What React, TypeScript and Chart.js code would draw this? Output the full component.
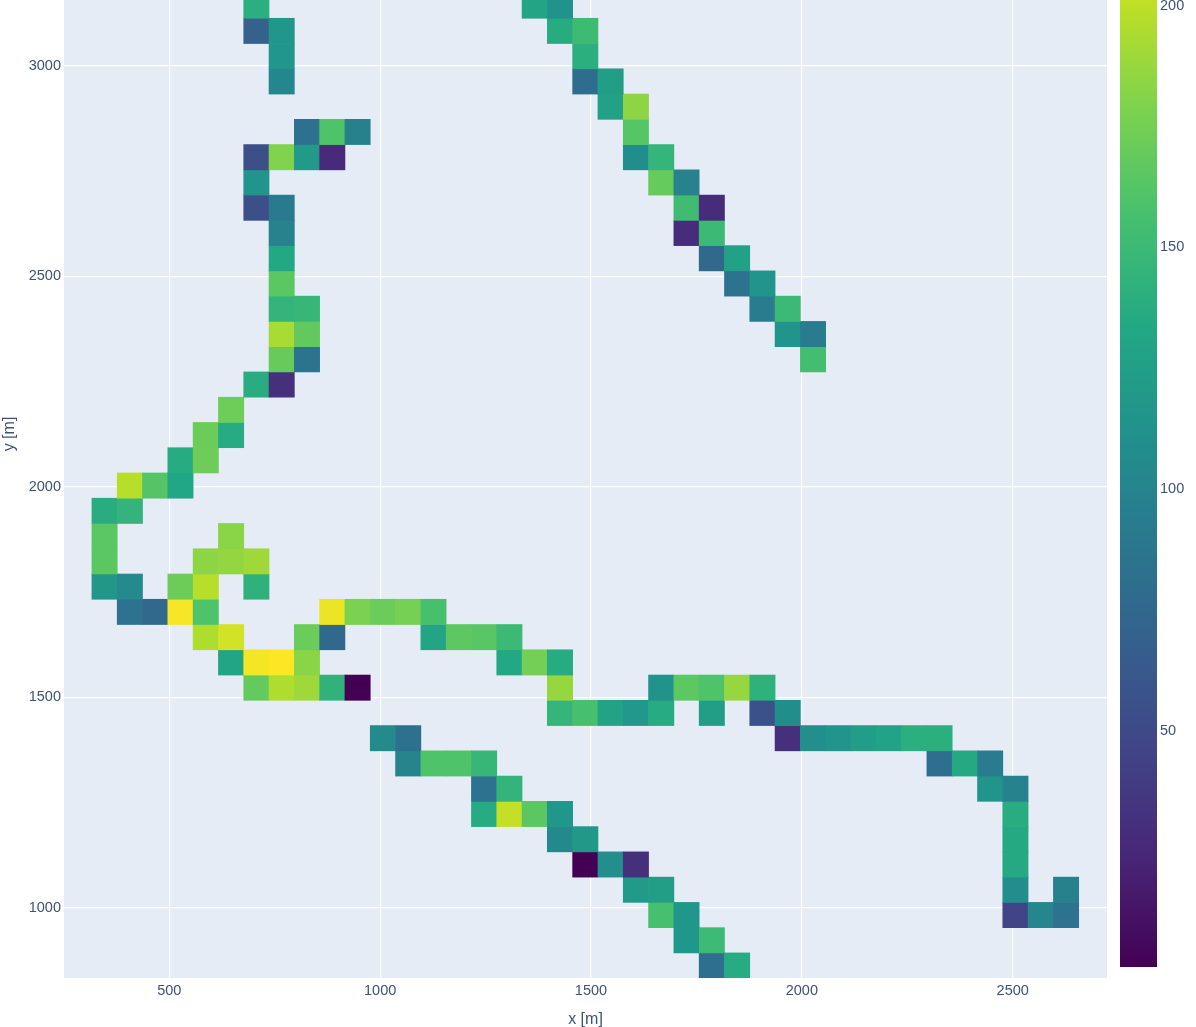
import React, { useEffect, useRef } from "react";
import { Chart, registerables } from "chart.js";

Chart.register(...registerables);

const xCenters = [346.5,406.5,466.5,526.5,586.5,646.5,706.5,766.5,826.5,886.5,946.5,1006.5,1066.5,1126.5,1186.5,1246.5,1306.5,1366.5,1426.5,1486.5,1546.5,1606.5,1666.5,1726.5,1786.5,1846.5,1906.5,1966.5,2026.5,2086.5,2146.5,2206.5,2266.5,2326.5,2386.5,2446.5,2506.5,2566.5,2626.5];
const yCenters = [863,923,983,1043,1103,1163,1223,1283,1343,1403,1463,1523,1583,1643,1703,1763,1823,1883,1943,2003,2063,2123,2183,2243,2303,2363,2423,2483,2543,2603,2663,2723,2783,2843,2903,2963,3023,3083,3143];

// column indexes of the filled cells, one list per row (bottom row first)
const rowColumns = [
  [24,25],[23,24],[22,23,36,37,38],[21,22,36,38],[19,20,21,36],[18,19,36],[15,16,17,18,36],[15,16,35,36],
  [12,13,14,15,33,34,35],[11,12,27,28,29,30,31,32,33],[18,19,20,21,22,24,26,27],[6,7,8,9,10,18,22,23,24,25,26],
  [5,6,7,8,16,17,18],[4,5,8,9,13,14,15,16],[1,2,3,4,9,10,11,12,13],[0,1,3,4,6],[0,4,5,6],[0,5],[0,1],[1,2,3],
  [3,4],[4,5],[5],[6,7],[7,8,28],[7,8,27,28],[7,8,26,27],[7,25,26],[7,24,25],[7,23,24],[6,7,23,24],[6,22,23],
  [6,7,8,9,21,22],[8,9,10,21],[20,21],[7,19,20],[7,19],[6,7,18,19],[6,17,18],
];
const rowValues = [
  [81,136],[116,151],[157,116,46,102,84],[120,124,108,97],[1,110,30,135],[104,119,135],[136,202,165,116,138],[84,145,115,99],
  [100,160,160,147,81,135,93],[106,83,31,110,114,123,128,140,140],[146,157,129,118,137,124,56,109],[169,195,190,143,1,187,113,166,160,187,142],
  [131,219,222,183,134,175,137],[195,207,172,76,130,166,164,150],[84,76,220,160,216,178,172,176,157],[117,105,172,198,142],[165,184,186,190],[165,183],[138,145],[198,162,133],
  [136,173],[172,136],[173],[138,30],[170,85,155],[193,168,115,93],[145,147,92,150],[165,84,115],[134,76,127],[98,28,150],[54,91,153,28],[114,170,98],
  [54,180,120,27,109,146],[83,160,97,163],[127,184],[103,80,124],[116,140],[70,117,137,152],[140,130,113],
];

const xTicks = [500, 1000, 1500, 2000, 2500];
const yTicks = [1000, 1500, 2000, 2500, 3000];
const cellSize = 60;
const xRange = [250.3, 2723.6];
const yRange = [833.4, 3417.7];
const colorRange = [1.1, 221.9];
const colorTicks = [50, 100, 150, 200];

const viridisStops = ["#440154","#482576","#414487","#355f8d","#2a788e","#21918c","#22a884","#44bf70","#7ad151","#bddf26","#fde725"];
const plotBg = "#E5ECF6";
const inkColor = "#3f5272";
const fontFamily = "'Liberation Sans', Arial, sans-serif";

function hexToRgb(h: string) {
  return [1, 3, 5].map((i) => parseInt(h.slice(i, i + 2), 16));
}
function viridis(v: number) {
  const t = Math.max(0, Math.min(1, (v - colorRange[0]) / (colorRange[1] - colorRange[0]))) * (viridisStops.length - 1);
  const i = Math.min(Math.floor(t), viridisStops.length - 2);
  const a = hexToRgb(viridisStops[i]);
  const b = hexToRgb(viridisStops[i + 1]);
  const f = t - i;
  const c = a.map((p, n) => Math.round(p + (b[n] - p) * f));
  return `rgb(${c[0]},${c[1]},${c[2]})`;
}

const plotBackground = {
  id: "plotBackground",
  beforeDraw(chart: any) {
    const { ctx, chartArea: a } = chart;
    ctx.save();
    ctx.fillStyle = plotBg;
    ctx.fillRect(a.left, a.top, a.right - a.left, a.bottom - a.top);
    ctx.restore();
  },
};

const PLOT_W = 1043;

export default function App() {
  const mainRef = useRef<HTMLCanvasElement>(null);
  const barRef = useRef<HTMLCanvasElement>(null);

  useEffect(() => {
    const cells: any[] = [];
    const colors: string[] = [];
    rowColumns.forEach((cols, r) => {
      cols.forEach((c, i) => {
        const v = rowValues[r][i];
        cells.push({ x: xCenters[c], y: [yCenters[r] - cellSize / 2, yCenters[r] + cellSize / 2] });
        colors.push(viridis(v));
      });
    });
    const thickness = (cellSize / (xRange[1] - xRange[0])) * PLOT_W;
    const tickFont = { family: fontFamily, size: 14.5 };
    const titleFont = { family: fontFamily, size: 16 };
    const plainLabel = (v: any) => String(v);

    const main = new Chart(mainRef.current!, {
      type: "bar",
      data: {
        datasets: [{ data: cells, backgroundColor: colors, borderWidth: 0, barThickness: thickness, grouped: false } as any],
      },
      options: {
        responsive: false,
        animation: false,
        layout: { padding: { left: 0, top: 0, bottom: 0, right: 89 } },
        plugins: { legend: { display: false }, tooltip: { enabled: false } },
        scales: {
          x: {
            type: "linear",
            offset: false,
            min: xRange[0],
            max: xRange[1],
            afterBuildTicks(s: any) { s.ticks = xTicks.map((value) => ({ value })); },
            afterFit(s: any) { s.height = 49; s.paddingLeft = 0; s.paddingRight = 0; },
            grid: { color: "#ffffff", lineWidth: 1.2, drawTicks: false, offset: false },
            border: { display: false },
            ticks: { color: inkColor, font: tickFont, padding: 4, maxRotation: 0, autoSkip: false, callback: plainLabel },
            title: { display: true, text: "x [m]", color: inkColor, font: titleFont, padding: { top: 0, bottom: -2 } },
          },
          y: {
            type: "linear",
            min: yRange[0],
            max: yRange[1],
            afterBuildTicks(s: any) { s.ticks = yTicks.map((value) => ({ value })); },
            afterFit(s: any) { s.width = 64; s.paddingTop = 0; s.paddingBottom = 0; },
            grid: { color: "#ffffff", lineWidth: 1.2, drawTicks: false },
            border: { display: false },
            ticks: { color: inkColor, font: tickFont, padding: 3, autoSkip: false, callback: plainLabel },
            title: { display: true, text: "y [m]", color: inkColor, font: titleFont, padding: 0 },
          },
        },
      } as any,
      plugins: [plotBackground],
    });

    const bar = new Chart(barRef.current!, {
      type: "bar",
      data: {
        labels: [""],
        datasets: [
          {
            data: [colorRange],
            borderWidth: 0,
            barPercentage: 1,
            categoryPercentage: 1,
            backgroundColor(ctx: any) {
              const area = ctx.chart.chartArea;
              if (!area) return viridisStops[5];
              const g = ctx.chart.ctx.createLinearGradient(0, area.bottom, 0, area.top);
              viridisStops.forEach((c, i) => g.addColorStop(i / (viridisStops.length - 1), c));
              return g;
            },
          } as any,
        ],
      },
      options: {
        responsive: false,
        animation: false,
        layout: { padding: { left: 20, top: 10, bottom: 60, right: 0 } },
        plugins: { legend: { display: false }, tooltip: { enabled: false } },
        scales: {
          x: { display: false },
          y: {
            position: "right",
            min: colorRange[0],
            max: colorRange[1],
            afterFit(s: any) { s.width = 39; s.paddingTop = 0; s.paddingBottom = 0; },
            afterBuildTicks(s: any) { s.ticks = colorTicks.map((value) => ({ value })); },
            grid: { display: false, drawTicks: false },
            border: { display: false },
            ticks: { color: inkColor, font: tickFont, padding: 3, autoSkip: false },
          },
        },
      } as any,
    });

    return () => {
      main.destroy();
      bar.destroy();
    };
  }, []);

  return (
    <div style={{ position: "absolute", left: 0, top: 0, width: 1196, height: 1027, overflow: "hidden", background: "#fff" }}>
      <canvas ref={mainRef} width={1196} height={1137} style={{ position: "absolute", left: 0, top: -110, display: "block" }} />
      <canvas ref={barRef} width={96} height={1137} style={{ position: "absolute", left: 1100, top: -110, display: "block" }} />
    </div>
  );
}
